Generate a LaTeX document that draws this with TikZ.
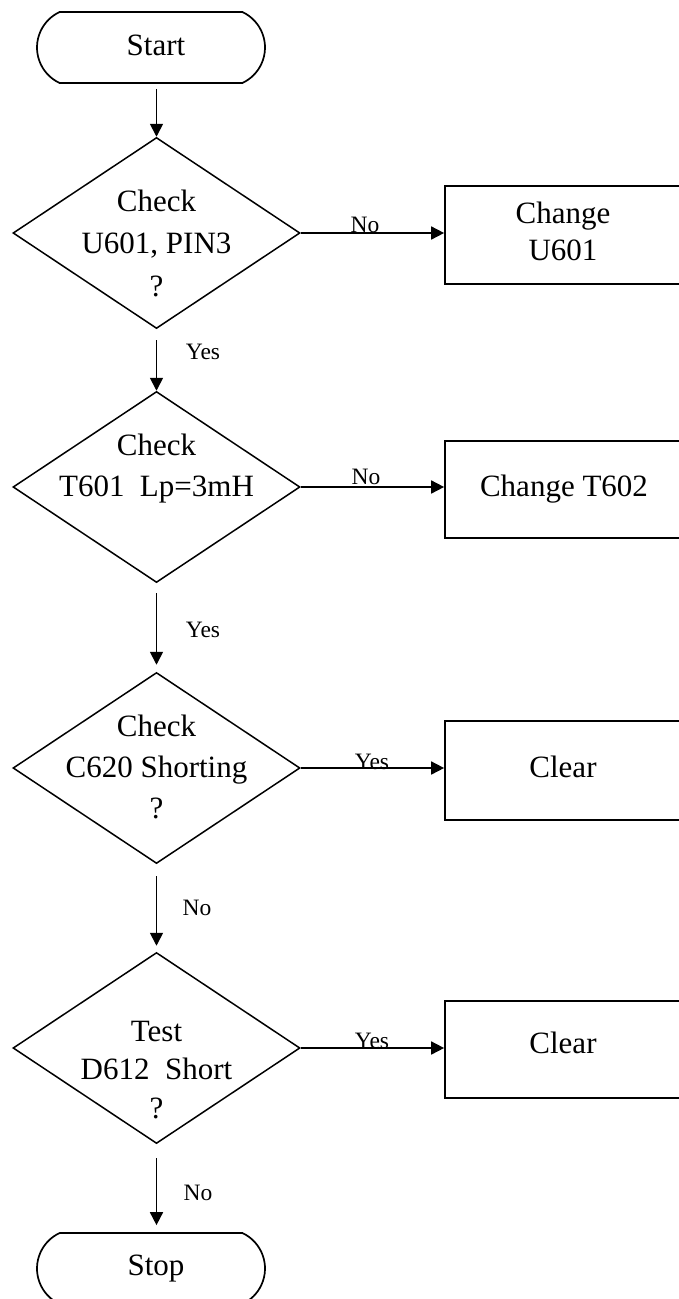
\documentclass[tikz,border=0pt]{standalone}
\usepackage{fontspec}
\setmainfont{Liberation Serif}
\usetikzlibrary{shapes.geometric,shapes.misc,arrows.meta}
\begin{document}
\begin{tikzpicture}[x=1pt,y=-1pt,
  lw/.style={line width=1.7pt},
  term/.style={draw,lw,rounded rectangle,rounded rectangle arc length=130,minimum width=228pt,minimum height=71pt,inner sep=0pt},
  dec/.style={draw,line width=1.5pt,diamond,minimum width=287pt,minimum height=191pt,inner sep=0pt},
  act/.style={draw,lw,rectangle,minimum width=236pt,minimum height=98pt,inner sep=0pt},
  big/.style={font=\fontsize{31}{41}\selectfont,align=center,inner sep=0pt},
  small/.style={font=\fontsize{23.5}{28}\selectfont,inner sep=0pt},
  arr/.style={lw,-{Triangle[length=13pt,width=13pt]}}]
\useasboundingbox (0,0) rectangle (679,1299);
\clip (0,0) rectangle (679,1299);
% terminals
\node[term] (start) at (151,47.5) {};
\node[big] (startt) at (156,45) {Start};
\node[term] (stop) at (151,1268.5) {};
\node[big] (stopt) at (156,1269) {Stop};
% decisions
\node[dec] (d1) at (156.5,233) {};
\node[big,font=\fontsize{31}{42.5}\selectfont] (d1t) at (156.5,243) {Check\\U601, PIN3\\?};
\node[dec] (d2) at (156.5,487) {};
\node[big] (d2t) at (156.5,469) {Check\\T601\ \ Lp=3mH};
\node[dec] (d3) at (156.5,768) {};
\node[big] (d3t) at (156.5,767) {Check\\C620 Shorting\\?};
\node[dec] (d4) at (156.5,1048) {};
\node[big,font=\fontsize{31}{38.5}\selectfont] (d4t) at (156.5,1070) {Test\\D612\ \ Short\\?};
% actions
\node[act] (b1) at (563,235) {};
\node[big,font=\fontsize{31}{37}\selectfont] (b1t) at (563,231.5) {Change\\U601};
\node[act,minimum height=97pt] (b2) at (563,489.5) {};
\node[big] (b2t) at (564,489) {Change T602};
\node[act,minimum height=99pt] (b3) at (563,770.5) {};
\node[big] (b3t) at (563,767) {Clear};
\node[act,minimum height=97pt] (b4) at (563,1049.5) {};
\node[big] (b4t) at (563,1043) {Clear};
% connectors
\draw[arr,shorten <=5pt] (start.south -| d1.north) -- (d1.north);
\draw[arr,shorten <=11pt] (d1.south) -- (d2.north);
\draw[arr,shorten <=10pt,shorten >=7pt] (d2.south) -- (d3.north);
\draw[arr,shorten <=12pt,shorten >=6pt] (d3.south) -- (d4.north);
\draw[arr,shorten <=14pt,shorten >=7pt] (d4.south) -- (stop.north -| d4.south);
\draw[arr] (d1.east) -- (d1.east -| b1.west);
\draw[arr] (d2.east) -- (d2.east -| b2.west);
\draw[arr] (d3.east) -- (d3.east -| b3.west);
\draw[arr] (d4.east) -- (d4.east -| b4.west);
% labels
\node[small] (l1) at (365,225) {No};
\node[small] (l2) at (366,477) {No};
\node[small] (l3) at (372,762) {Yes};
\node[small] (l4) at (372,1041) {Yes};
\node[small] (l5) at (203,352) {Yes};
\node[small] (l6) at (203,630) {Yes};
\node[small] (l7) at (197,908) {No};
\node[small] (l8) at (198,1193) {No};
\end{tikzpicture}
\end{document}
